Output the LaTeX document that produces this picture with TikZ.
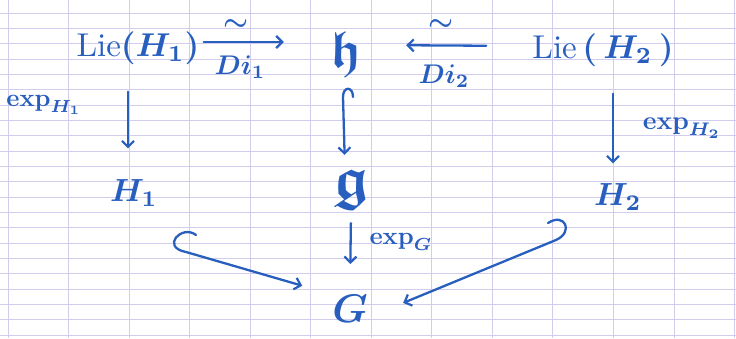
\documentclass[tikz,border=0pt]{standalone}
\usepackage{amssymb}
\usepackage{graphicx}
\usetikzlibrary{arrows.meta}
\definecolor{ink}{RGB}{40,95,190}
\definecolor{ruling}{RGB}{210,205,236}
% hand-sized text: a 10pt setting blown up by the given factor
\newcommand{\handsize}[2]{\scalebox{#1}{\boldmath #2}}
\begin{document}
\begin{tikzpicture}[x=1pt,y=-1pt,
  obj/.style={text=ink,inner sep=1pt},
  lab/.style={text=ink,inner sep=1pt},
  map/.style={draw=ink,line width=2.3pt,line cap=round,line join=round,
    -{Straight Barb[length=6pt,width=12pt,line width=2.2pt]}},
]
% paper with its ruling
\fill[white] (0,0) rectangle (736,338);
\useasboundingbox (0,0) rectangle (736,338);
\foreach \k in {0,...,21} \draw[ruling,line width=1pt] (0,{13.3+15.33*\k}) -- ++(736,0);
\foreach \k in {0,...,12} \draw[ruling,line width=1pt] ({8+60.55*\k},0) -- ++(0,338);

% objects
\node[obj] (L1) at (138,48) {\handsize{3.3}{Lie$(H_1)$}};
\node[obj] (h) at (346,54) {\handsize{5.2}{$\mathfrak{h}$}};
\node[obj] (L2) at (603,50) {\handsize{3.3}{Lie\,$(\,H_2\,)$}};
\node[obj] (H1) at (134,193) {\handsize{3.2}{$H_1$}};
\node[obj] (g) at (351,190) {\handsize{6.0}{$\mathfrak{g}$}};
\node[obj] (H2) at (618,197) {\handsize{3.2}{$H_2$}};
\node[obj] (G) at (350,309) {\handsize{4.0}{$G$}};

% Lie algebra isomorphisms
\draw[map,shorten <=3pt,shorten >=45pt] ([yshift=6pt]L1.east) -- ([yshift=12pt]h.west);
\node[lab] (t1) at (236,25) {\handsize{2.8}{$\sim$}};
\node[lab] (d1) at (240,67) {\handsize{2.7}{$Di_1$}};
\draw[map,shorten <=45pt,shorten >=43pt] ([yshift=4pt]L2.west) -- ([yshift=9pt]h.east);
\node[lab] (t2) at (441,25) {\handsize{2.8}{$\sim$}};
\node[lab] (d2) at (444,76) {\handsize{2.7}{$Di_2$}};

% exponential maps
\draw[map,shorten <=26pt,shorten >=30pt] ([xshift=-10pt]L1.south) -- ([xshift=-6pt]H1.north);
\node[lab] (e1) at (44,105) {\handsize{2.5}{$\exp_{H_1}$}};
\draw[map,shorten <=26pt,shorten >=19pt] ([xshift=10pt]L2.south) -- ([xshift=-5pt]H2.north);
\node[lab] (e2) at (682,128) {\handsize{2.6}{$\exp_{H_2}$}};
\draw[map,shorten <=12pt,shorten >=30pt] (g.south) -- (G.north);
\node[lab] (eG) at (401,242) {\handsize{2.5}{$\exp_G$}};

% inclusions
\coordinate (hk) at (353,97);
\draw[map,shorten >=14pt] (hk) .. controls (353,86) and (343,86) .. (343,97) -- ([xshift=-6pt]g.north);
\coordinate (k1) at (196,235);
\draw[map,shorten >=30pt] (k1) .. controls (182,224) and (160,247) .. (186,252) -- (G.north west);
\coordinate (k2) at (548,223);
\draw[map,shorten >=37pt] (k2) .. controls (565,212) and (574,232) .. (556,240) -- ([yshift=-8pt]G.east);
\end{tikzpicture}
\end{document}
